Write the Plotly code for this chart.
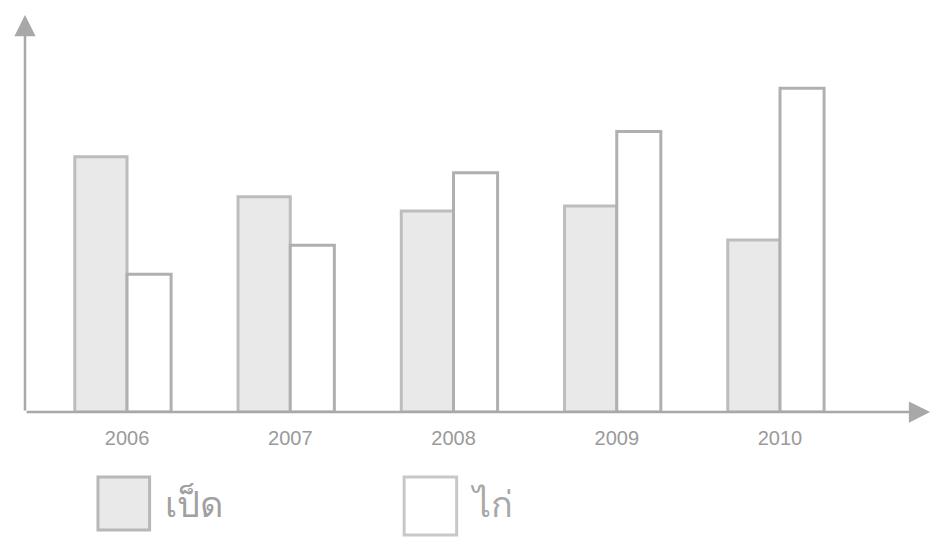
import plotly.graph_objects as go

# Data
years = ["2006", "2007", "2008", "2009", "2010"]
shaded_values = [25.4, 21.4, 20.0, 20.5, 17.1]
white_values = [13.7, 16.6, 23.8, 27.9, 32.2]
legend_labels = ["เป็ด", "ไก่"]

text_gray = "#9a9a9a"

fig = go.Figure()
fig.add_trace(go.Bar(x=years, y=shaded_values, name=legend_labels[0],
                     marker=dict(color="#e9e9e9", line=dict(color="#bdbdbd", width=3)),
                     width=0.32, offset=-0.32))
fig.add_trace(go.Bar(x=years, y=white_values, name=legend_labels[1],
                     marker=dict(color="white", line=dict(color="#b0b0b0", width=3)),
                     width=0.27, offset=0.0))

fig.update_layout(
    width=940, height=550,
    margin=dict(l=25, r=25, t=30, b=138, autoexpand=False),
    plot_bgcolor="white", paper_bgcolor="white",
    showlegend=False,
    font=dict(family="Liberation Sans Narrow, Liberation Sans, sans-serif", color=text_gray),
)
fig.update_xaxes(range=[-0.625, 4.827], showline=False, showgrid=False, zeroline=False,
                 ticks="outside", ticklen=8, tickcolor="white",
                 tickfont=dict(size=20, color=text_gray))
fig.update_yaxes(range=[0, 38], showline=False, showgrid=False, zeroline=False,
                 showticklabels=False)

# axis arrows (tips poke out past the plot area, as in the scan)
fig.add_annotation(xref="paper", yref="paper", x=0, y=1.039, ax=0, ay=397,
                   axref="pixel", ayref="pixel", text="", showarrow=True,
                   arrowhead=2, arrowsize=1.7, arrowwidth=2.5, arrowcolor="#a8a8a8")
fig.add_annotation(xref="paper", yref="paper", x=1.017, y=0, ax=-905, ay=0,
                   axref="pixel", ayref="pixel", text="", showarrow=True,
                   arrowhead=2, arrowsize=1.7, arrowwidth=2.5, arrowcolor="#a8a8a8")

# legend drawn below the axis
fig.add_shape(type="rect", xref="paper", yref="paper",
              x0=0.082, x1=0.140, y0=-0.309, y1=-0.170,
              fillcolor="#e9e9e9", line=dict(color="#b8b8b8", width=3))
fig.add_shape(type="rect", xref="paper", yref="paper",
              x0=0.426, x1=0.485, y0=-0.322, y1=-0.170,
              fillcolor="white", line=dict(color="#c8c8c8", width=3))
fig.add_annotation(xref="paper", yref="paper", x=0.155, y=-0.30, text=legend_labels[0],
                   showarrow=False, xanchor="left", font=dict(size=36, color="#a0a0a0"))
fig.add_annotation(xref="paper", yref="paper", x=0.498, y=-0.30, text=legend_labels[1],
                   showarrow=False, xanchor="left", font=dict(size=36, color="#a8a8a8"))

# drop the browser's default page margin so the figure sits at (0, 0)
fig.write_html("out.html", config={"displayModeBar": False},
               post_script="document.body.style.margin='0';")
